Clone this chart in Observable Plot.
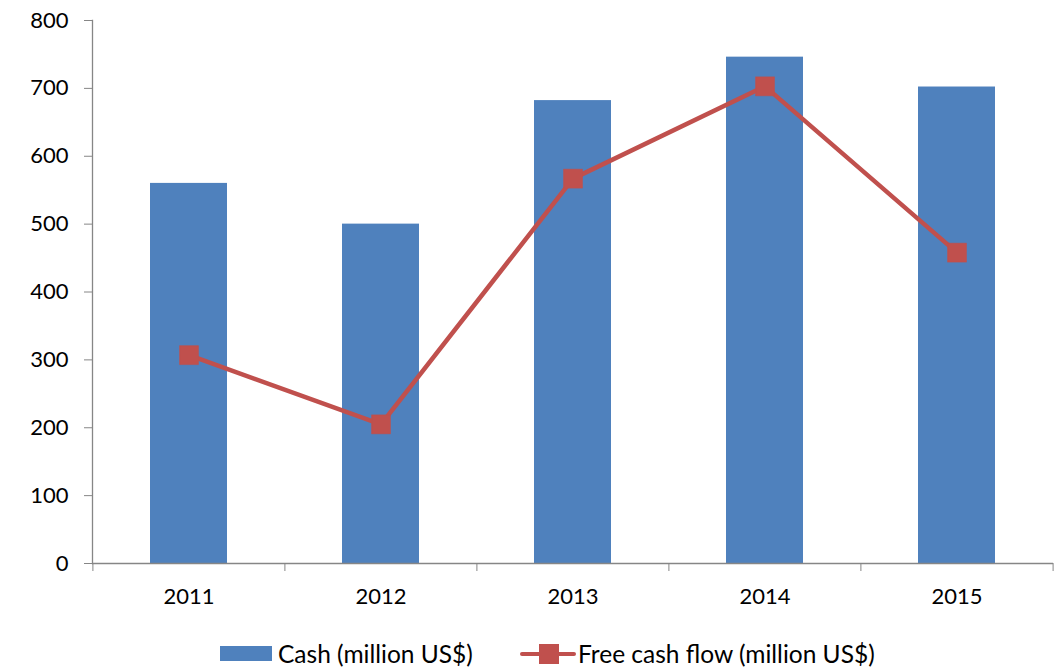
<!DOCTYPE html>
<html>
<head>
<meta charset="utf-8">
<script src="https://cdn.jsdelivr.net/npm/d3@7"></script>
<script src="https://cdn.jsdelivr.net/npm/@observablehq/plot@0.6"></script>
<style>
  body { margin: 0; background: #fff; font-family: Lato, "Open Sans", sans-serif; }
  #chart svg { display: block; }
  #chart svg text { font-size: 22px !important; fill: #000; }
  .legend { position: relative; height: 53px; font-size: 24.5px; color: #000; }
  .legend .item { position: absolute; top: 12px; height: 53px; display: flex; align-items: center; }
  .sw-bar { width: 52px; height: 15px; background: #4f81bd; margin-right: 6px; }
  .sw-line { position: relative; width: 56px; height: 20px; margin-right: 2px; }
  .sw-line .ln { position: absolute; left: 0; right: 0; top: 8px; height: 4.5px; background: #c0504d; border-radius: 2px; }
  .sw-line .sq { position: absolute; left: 19px; top: 0px; width: 20px; height: 20px; background: #c0504d; }
</style>
</head>
<body>
<div id="chart"></div>
<script>
const years = ["2011", "2012", "2013", "2014", "2015"];
const cash = [560, 500, 682, 746, 702];
const freeCashFlow = [307, 205, 567, 703, 458];
const yTicks = [0, 100, 200, 300, 400, 500, 600, 700, 800];
const seriesNames = ["Cash (million US$)", "Free cash flow (million US$)"];

const data = years.map((y, i) => ({year: y, cash: cash[i], fcf: freeCashFlow[i]}));

const W = 1058, mL = 92, mR = 5;
const step = (W - mL - mR) / 5;

const chart = Plot.plot({
  width: W,
  height: 615,
  marginLeft: mL,
  marginRight: mR,
  marginTop: 20,
  marginBottom: 52,
  style: {fontFamily: "Lato, 'Open Sans', sans-serif", color: "#000", background: "#fff"},
  x: {domain: years, paddingInner: 0.6, paddingOuter: 0.3, axis: null, label: null},
  y: {domain: [0, 800], axis: null, label: null},
  marks: [
    Plot.barY(data, {x: "year", y: "cash", fill: "#4f81bd"}),
    Plot.ruleY([0], {stroke: "#868686", strokeWidth: 1.3}),
    Plot.frame({anchor: "left", stroke: "#868686", strokeWidth: 1.3}),
    Plot.axisY({ticks: yTicks, tickSize: 8, tickPadding: 16, label: null, stroke: "#868686", strokeOpacity: 1, fill: "#000", tickFormat: d => String(d)}),
    Plot.axisX({tickSize: 8, text: null, label: null, dx: -step / 2, stroke: "#868686", strokeOpacity: 1}),
    Plot.axisX({ticks: ["2015"], tickSize: 8, text: null, label: null, dx: step / 2, stroke: "#868686", strokeOpacity: 1}),
    Plot.axisX({tickSize: 0, tickPadding: 25, label: null, fill: "#000"}),
    Plot.line(data, {x: "year", y: "fcf", stroke: "#c0504d", strokeWidth: 4.5}),
    Plot.dot(data, {x: "year", y: "fcf", symbol: "square", r: 10.7, fill: "#c0504d", stroke: "#c0504d", strokeWidth: 0.5})
  ]
});
document.getElementById("chart").appendChild(chart);

const legend = document.createElement("div");
legend.className = "legend";
legend.innerHTML = `
  <div class="item" style="left:220px"><div class="sw-bar"></div><span>${seriesNames[0]}</span></div>
  <div class="item" style="left:520px"><div class="sw-line"><div class="ln"></div><div class="sq"></div></div><span>${seriesNames[1]}</span></div>`;
document.body.appendChild(legend);
</script>
</body>
</html>
